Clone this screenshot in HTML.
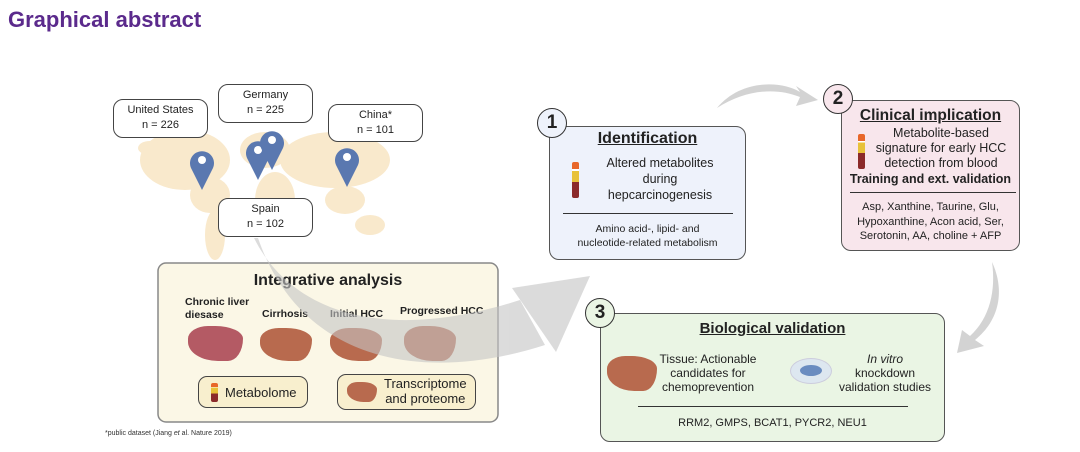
<!DOCTYPE html>
<html><head><meta charset="utf-8"><style>
*{margin:0;padding:0;box-sizing:border-box}
body{width:1080px;height:452px;background:#fff;position:relative;overflow:hidden;font-family:"Liberation Sans",Arial,sans-serif;color:#222}
.a{position:absolute}
.lbl{position:absolute;background:#fff;border:1.5px solid #444;border-radius:10px;font-size:11px;text-align:center;line-height:15px;padding-top:3px}
.box{position:absolute;border:1.5px solid #555;border-radius:10px}
.num{position:absolute;width:30px;height:30px;border-radius:50%;border:1.5px solid #333;font-weight:bold;font-size:19px;text-align:center;line-height:27px}
.u{font-weight:bold;text-decoration:underline;font-size:15px}
.tube{position:absolute;width:7px;border-radius:2px;background:linear-gradient(#e8672a 0 20%,#fff 20% 25%,#e8c23a 25% 55%,#8b2a2a 55%)}
.liver{position:absolute;border-radius:40% 55% 30% 60%/40% 40% 70% 60%;background:#b86a4e}
</style></head><body>
<div class="a" style="left:8px;top:7px;font-size:22px;font-weight:bold;color:#5b2a8c">Graphical abstract</div>

<svg class="a" style="left:0;top:0" width="1080" height="452">
<g fill="#f9e9cc">
<ellipse cx="185" cy="160" rx="45" ry="30"/><ellipse cx="210" cy="195" rx="20" ry="18"/>
<ellipse cx="215" cy="235" rx="10" ry="25"/>
<ellipse cx="265" cy="150" rx="25" ry="18"/><ellipse cx="275" cy="200" rx="20" ry="28"/>
<ellipse cx="335" cy="160" rx="55" ry="28"/><ellipse cx="345" cy="200" rx="20" ry="14"/>
<ellipse cx="370" cy="225" rx="15" ry="10"/>
<ellipse cx="150" cy="148" rx="12" ry="7"/>
</g>
<g fill="#5a78b0">
<path d="M202 190 L191 168 A12 12 0 1 1 213 168 Z"/><circle cx="202" cy="160" r="4" fill="#fff"/>
<path d="M258 180 L247 158 A12 12 0 1 1 269 158 Z"/><circle cx="258" cy="150" r="4" fill="#fff"/>
<path d="M272 170 L261 148 A12 12 0 1 1 283 148 Z"/><circle cx="272" cy="140" r="4" fill="#fff"/>
<path d="M347 187 L336 165 A12 12 0 1 1 358 165 Z"/><circle cx="347" cy="157" r="4" fill="#fff"/>
</g>
<rect x="158" y="263" width="340" height="159" rx="8" fill="#fbf7e6" stroke="#888" stroke-width="1.5"/>
<g fill="#c8c8c8" opacity="0.8">
<path d="M717 108 C740 80 780 80 800 92 L796 86 L818 100 L796 106 L800 97 C775 87 745 90 717 108 Z"/>
<path d="M992 262 C1005 290 1000 320 975 340 L984 346 L957 353 L962 330 L970 336 C990 318 996 290 992 262 Z"/>
</g>
</svg>

<div class="lbl" style="left:113px;top:99px;width:95px;height:39px">United States<br>n = 226</div>
<div class="lbl" style="left:218px;top:84px;width:95px;height:39px">Germany<br>n = 225</div>
<div class="lbl" style="left:328px;top:104px;width:95px;height:38px">China*<br>n = 101</div>
<div class="lbl" style="left:218px;top:198px;width:95px;height:39px">Spain<br>n = 102</div>

<div class="a" style="left:158px;top:272px;width:340px;text-align:center;font-weight:bold;font-size:16px">Integrative analysis</div>
<div class="a" style="left:185px;top:296px;font-weight:bold;font-size:10.5px;line-height:13px">Chronic liver<br>diesase</div>
<div class="a" style="left:262px;top:308px;font-weight:bold;font-size:10.5px">Cirrhosis</div>
<div class="a" style="left:330px;top:308px;font-weight:bold;font-size:10.5px">Initial HCC</div>
<div class="a" style="left:400px;top:305px;font-weight:bold;font-size:10.5px">Progressed HCC</div>
<div class="liver" style="left:188px;top:326px;width:55px;height:35px;background:#b45a64"></div>
<div class="liver" style="left:260px;top:328px;width:52px;height:33px"></div>
<div class="liver" style="left:330px;top:328px;width:52px;height:33px"></div>
<div class="liver" style="left:404px;top:326px;width:52px;height:35px"></div>
<div class="a" style="left:198px;top:376px;width:110px;height:32px;border:1.5px solid #444;border-radius:9px;background:#f8efce"></div>
<div class="tube" style="left:211px;top:383px;height:19px"></div>
<div class="a" style="left:225px;top:385px;font-size:13px">Metabolome</div>
<div class="a" style="left:337px;top:374px;width:139px;height:36px;border:1.5px solid #444;border-radius:9px;background:#f8efce"></div>
<div class="liver" style="left:347px;top:382px;width:30px;height:20px"></div>
<div class="a" style="left:384px;top:376px;font-size:13px;line-height:15px;text-align:center">Transcriptome<br>and proteome</div>
<div class="a" style="left:105px;top:430px;font-size:7px;color:#333">*public dataset (Jiang <i>et</i> al. Nature 2019)</div>

<svg class="a" style="left:0;top:0" width="1080" height="452">
<g fill="#c4c4c4" opacity="0.6">
<path d="M254 238 C290 310 380 345 520 300 L545 345 C420 385 300 360 258 238 Z"/>
<path d="M512 288 L590 276 L556 352 Z"/>
</g>
</svg>

<div class="box" style="left:549px;top:126px;width:197px;height:134px;background:#eef2fb"></div>
<div class="num" style="left:537px;top:108px;background:#eef2fb">1</div>
<div class="a" style="left:549px;top:130px;width:197px;text-align:center"><span class="u" style="font-size:16px">Identification</span></div>
<div class="tube" style="left:572px;top:162px;height:36px"></div>
<div class="a" style="left:585px;top:155px;width:150px;text-align:center;font-size:12.5px;line-height:16px">Altered metabolites<br>during<br>hepcarcinogenesis</div>
<div class="a" style="left:563px;top:213px;width:170px;border-top:1px solid #333"></div>
<div class="a" style="left:549px;top:222px;width:197px;text-align:center;font-size:10.5px;line-height:14px">Amino acid-, lipid- and<br>nucleotide-related metabolism</div>

<div class="box" style="left:841px;top:100px;width:179px;height:151px;background:#f8e6ec"></div>
<div class="num" style="left:823px;top:84px;background:#f8e6ec">2</div>
<div class="a" style="left:841px;top:107px;width:179px;text-align:center"><span class="u" style="font-size:15.5px">Clinical implication</span></div>
<div class="tube" style="left:858px;top:134px;height:35px"></div>
<div class="a" style="left:866px;top:126px;width:150px;text-align:center;font-size:12.5px;line-height:15px">Metabolite-based<br>signature for early HCC<br>detection from blood</div>
<div class="a" style="left:841px;top:172px;width:179px;text-align:center;font-size:12.5px;font-weight:bold">Training and ext. validation</div>
<div class="a" style="left:850px;top:192px;width:166px;border-top:1px solid #333"></div>
<div class="a" style="left:841px;top:200px;width:179px;text-align:center;font-size:11px;line-height:14.5px">Asp, Xanthine, Taurine, Glu,<br>Hypoxanthine, Acon acid, Ser,<br>Serotonin, AA, choline + AFP</div>

<div class="box" style="left:600px;top:313px;width:345px;height:129px;background:#eaf5e4"></div>
<div class="num" style="left:585px;top:298px;background:#eaf5e4">3</div>
<div class="a" style="left:600px;top:320px;width:345px;text-align:center"><span class="u">Biological validation</span></div>
<div class="liver" style="left:607px;top:356px;width:50px;height:35px"></div>
<div class="a" style="left:658px;top:352px;width:100px;text-align:center;font-size:12px;line-height:14px">Tissue: Actionable<br>candidates for<br>chemoprevention</div>
<div class="a" style="left:790px;top:358px;width:42px;height:26px;border-radius:50%;background:#dde7f0;border:1px solid #ccd"></div>
<div class="a" style="left:800px;top:365px;width:22px;height:11px;border-radius:50%;background:#6a8cc0"></div>
<div class="a" style="left:830px;top:352px;width:110px;text-align:center;font-size:12px;line-height:14px"><i>In vitro</i><br>knockdown<br>validation studies</div>
<div class="a" style="left:638px;top:406px;width:270px;border-top:1px solid #333"></div>
<div class="a" style="left:600px;top:417px;width:345px;text-align:center;font-size:11px">RRM2, GMPS, BCAT1, PYCR2, NEU1</div>
</body></html>
